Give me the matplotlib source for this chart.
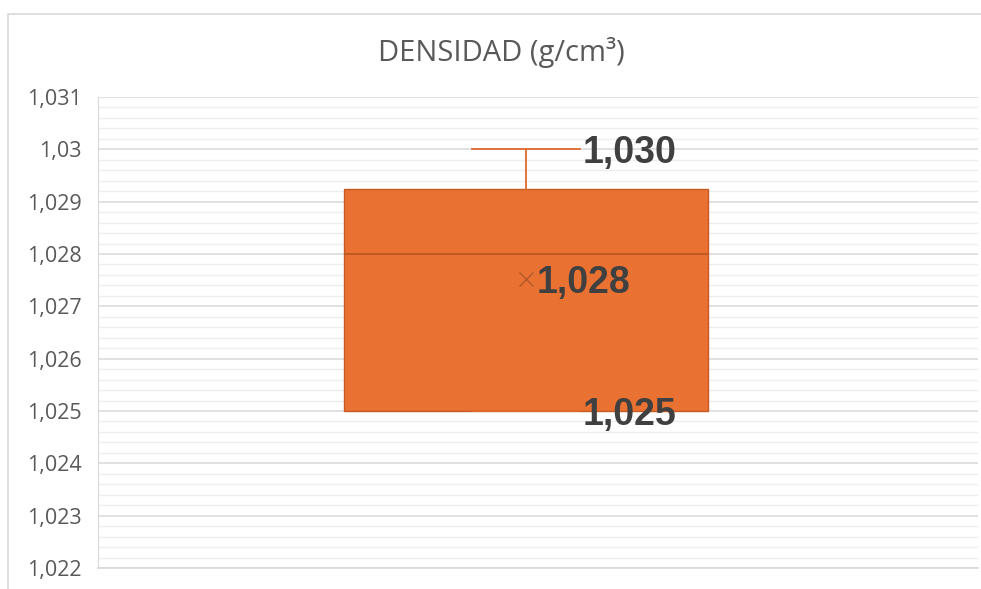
import matplotlib.pyplot as plt
from matplotlib.patches import Rectangle
from matplotlib.ticker import MultipleLocator, FuncFormatter

plt.rcParams['font.family'] = ['Open Sans', 'DejaVu Sans']

# datos del diagrama de caja (densidad g/cm3)
serie = 'DENSIDAD'
minimo = 1.025
q1 = 1.025
mediana = 1.028
q3 = 1.02925
maximo = 1.030
media = 1.02752
etiquetas = [maximo, media, q1]

def coma(v, pos=None):
    s = f'{v:.3f}'.rstrip('0').rstrip('.')
    return s.replace('.', ',')

fig = plt.figure(figsize=(9.81, 5.89), dpi=100)
# borde del grafico
fig.patches.append(Rectangle((8 / 981, -0.05), 1.2, 1 - 14 / 589 + 0.05,
                             transform=fig.transFigure, fill=False,
                             edgecolor='#d9d9d9', linewidth=1.2))

ax = fig.add_axes([98 / 981, 1 - 568 / 589, 880 / 981, 471 / 589])

stats = [dict(label=serie, whislo=minimo, q1=q1, med=mediana, q3=q3,
              whishi=maximo, mean=media)]
ax.bxp(stats, positions=[1], widths=0.4136, capwidths=0.1227,
       patch_artist=True, showmeans=True, showfliers=False,
       boxprops=dict(facecolor='#e97132', edgecolor='#c65a22', linewidth=1),
       medianprops=dict(color='#b9541f', linewidth=1.2),
       whiskerprops=dict(color='#e06a2c', linewidth=1.3),
       capprops=dict(color='#e06a2c', linewidth=1.3),
       meanprops=dict(marker='x', markeredgecolor='#b25a2a',
                      markersize=10, markeredgewidth=1))

ax.set_xlim(1 - 0.4864, 1 + 0.5136)
ax.set_ylim(1.022, 1.031)
ax.yaxis.set_major_locator(MultipleLocator(0.001))
ax.yaxis.set_minor_locator(MultipleLocator(0.0002))
ax.yaxis.set_major_formatter(FuncFormatter(coma))
ax.grid(which='major', axis='y', color='#d9d9d9', linewidth=1.1)
ax.grid(which='minor', axis='y', color='#eeeeee', linewidth=1.0)
ax.set_axisbelow(True)
ax.tick_params(axis='y', which='both', length=0, labelsize=15.5,
               labelcolor='#595959', pad=12)
ax.tick_params(axis='x', bottom=False, labelbottom=False)
for s in ['top', 'right']:
    ax.spines[s].set_visible(False)
ax.spines['left'].set_color('#d9d9d9')
ax.spines['bottom'].set_color('#d9d9d9')
ax.spines['bottom'].set_linewidth(1.2)

# etiquetas de datos
desp = [0.0648, 0.0125, 0.0648]
for v, d in zip(etiquetas, desp):
    ax.text(1 + d, v, f'{v:.3f}'.replace('.', ','), fontsize=27,
            fontweight='bold', family='Liberation Sans', color='#404040',
            va='center_baseline', ha='left')

fig.text(0.511, 1 - 52 / 589, 'DENSIDAD (g/cm³)', fontsize=21,
         color='#595959', ha='center', va='center')

fig.savefig('out.png', dpi=100)
